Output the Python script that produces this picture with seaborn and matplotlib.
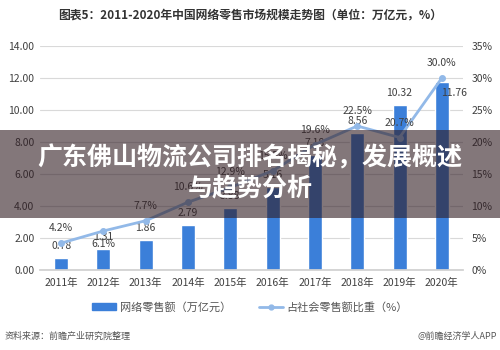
import matplotlib
matplotlib.use("Agg")
import matplotlib.pyplot as plt
import seaborn as sns
import pandas as pd
from matplotlib.patches import Rectangle, Patch
from matplotlib.lines import Line2D

years = ["2011年", "2012年", "2013年", "2014年", "2015年",
         "2016年", "2017年", "2018年", "2019年", "2020年"]
retail = [0.78, 1.31, 1.86, 2.79, 3.88, 5.16, 7.18, 8.56, 10.32, 11.76]
share = [4.2, 6.1, 7.7, 10.6, 12.9, 15.5, 19.6, 22.5, 20.7, 30.0]
left_ticks = [0, 2, 4, 6, 8, 10, 12, 14]
right_ticks = [0, 5, 10, 15, 20, 25, 30, 35]

title = "图表5：2011-2020年中国网络零售市场规模走势图（单位：万亿元，%）"
bar_name = "网络零售额（万亿元）"
line_name = "占社会零售额比重（%）"
source = "资料来源：前瞻产业研究院整理"
credit = "@前瞻经济学人APP"
banner1 = "广东佛山物流公司排名揭秘，发展概述"
banner2 = "与趋势分析"

df = pd.DataFrame({"year": years, "retail": retail, "share": share})

sns.set_theme(style="white")
plt.rcParams["font.family"] = ["Noto Sans CJK SC", "DejaVu Sans"]

BAR = "#3b7fd9"
LINE = "#92b9e8"
TXT = "#404040"

fig = plt.figure(figsize=(5, 3.5), dpi=100)
fig.patch.set_facecolor("white")
ax = fig.add_axes([0.08, 0.2286, 0.846, 0.64])

sns.barplot(data=df, x="year", y="retail", color=BAR, width=0.33,
            saturation=1, ax=ax, zorder=2)
ax.set_ylim(0, 14)
ax.set_yticks(left_ticks)
ax.set_yticklabels([f"{v:.2f}" for v in left_ticks], fontsize=7.5, color=TXT)
ax.grid(axis="y", color="#d9d9d9", linewidth=0.8, zorder=0)
ax.set_axisbelow(True)
for s in ["left", "right", "top"]:
    ax.spines[s].set_visible(False)
ax.spines["bottom"].set_color("#d0d0d0")
ax.tick_params(axis="both", length=0, pad=4)
ax.tick_params(axis="x", labelsize=7.5, labelcolor=TXT, pad=6)
ax.set_xlabel("")
ax.set_ylabel("")

ax2 = ax.twinx()
sns.pointplot(data=df, x="year", y="share", color=LINE, ax=ax2,
              markers="o", markersize=3.5, linewidth=2.0, zorder=3)
ax2.set_ylim(0, 35)
ax2.set_yticks(right_ticks)
ax2.set_yticklabels([f"{v}%" for v in right_ticks], fontsize=7.5, color=TXT)
ax2.tick_params(axis="y", length=0, pad=6)
for s in ["left", "right", "top", "bottom"]:
    ax2.spines[s].set_visible(False)
ax2.set_ylabel("")
ax2.grid(False)

# data labels
bar_off = [(0, 12)] * 9 + [(12, -11)]
line_off = [(0, 15), (0, -13), (0, 15), (0, 15), (0, 15),
            (0, 15), (0, 15), (0, 15), (0, 15), (0, 15)]
for i, (v, off) in enumerate(zip(retail, bar_off)):
    ax.annotate(f"{v:.2f}", (i, v), xytext=off, textcoords="offset pixels",
                ha="center", va="center", fontsize=7.5, color=TXT, zorder=5)
for i, (v, off) in enumerate(zip(share, line_off)):
    ax2.annotate(f"{v:.1f}%", (i, v), xytext=off, textcoords="offset pixels",
                 ha="center", va="center", fontsize=7.5, color=TXT, zorder=5)

fig.text(0.5, 1 - 15 / 350, title, ha="center", va="center",
         fontsize=8.5, fontweight="bold", color="#333333")

handles = [Patch(facecolor=BAR, edgecolor=BAR),
           Line2D([0], [0], color=LINE, lw=2, marker="o", markersize=3.5)]
fig.legend(handles, [bar_name, line_name], loc="center",
           bbox_to_anchor=(0.5, 1 - 307 / 350), ncol=2, frameon=False,
           fontsize=8, labelcolor="#555555", handlelength=2.2,
           handleheight=0.5, columnspacing=2.5, handletextpad=0.3)

fig.text(5 / 500, 1 - 336 / 350, source, ha="left", va="center",
         fontsize=6.5, color="#555555")
fig.text(497 / 500, 1 - 336 / 350, credit, ha="right", va="center",
         fontsize=6.5, color="#555555")

# banner overlay
fig.patches.append(Rectangle((0, 1 - 218 / 350), 1, 88 / 350,
                             transform=fig.transFigure, facecolor="#301c22",
                             alpha=0.6, zorder=10, edgecolor="none"))
fig.text(0.5, 1 - 158 / 350, banner1, ha="center", va="center",
         fontsize=18, fontweight="bold", color="white", zorder=11)
fig.text(0.5, 1 - 189 / 350, banner2, ha="center", va="center",
         fontsize=18, fontweight="bold", color="white", zorder=11)

fig.savefig("out.png", dpi=100, facecolor="white")
